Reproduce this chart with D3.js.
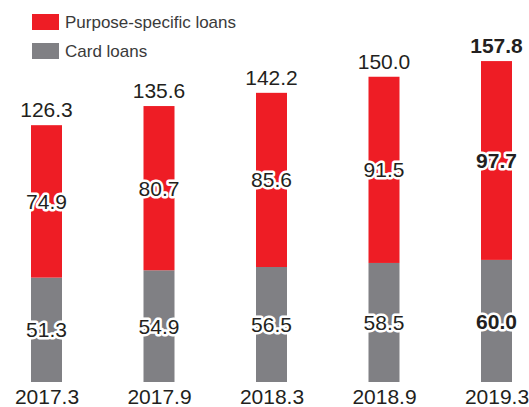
<!DOCTYPE html>
<html>
<head>
<meta charset="utf-8">
<script src="https://cdn.jsdelivr.net/npm/d3@7"></script>
<style>
  html, body { margin: 0; padding: 0; background: #fff; }
  svg { display: block; font-family: "Liberation Sans", Arial, Helvetica, sans-serif; }
</style>
</head>
<body>
<svg id="chart" width="529" height="407"></svg>
<script>
// Loan balances by period (stacked: card loans at the bottom)
const periods = ["2017.3", "2017.9", "2018.3", "2018.9", "2019.3"];
const cardLoans = [51.3, 54.9, 56.5, 58.5, 60.0];
const purposeLoans = [74.9, 80.7, 85.6, 91.5, 97.7];
const totals = [126.3, 135.6, 142.2, 150.0, 157.8];
const seriesNames = ["Card loans", "Purpose-specific loans"];
const seriesColors = ["#808084", "#ee1d25"];

const svg = d3.select("#chart");
const textColor = "#231f20";

const rows = periods.map((p, i) => ({
  period: p,
  "Card loans": cardLoans[i],
  "Purpose-specific loans": purposeLoans[i]
}));
const stacked = d3.stack().keys(seriesNames)(rows);

const x = d3.scalePoint().domain(periods).range([46.5, 496.5]);
const y = d3.scaleLinear().domain([0, 160]).range([382, 56.4]);
const barW = 31;
const color = d3.scaleOrdinal().domain(seriesNames).range(seriesColors);

// Bars
svg.append("g").selectAll("g")
  .data(stacked)
  .join("g")
  .attr("fill", d => color(d.key))
  .selectAll("rect")
  .data(d => d)
  .join("rect")
  .attr("x", d => x(d.data.period) - barW / 2)
  .attr("y", d => y(d[1]))
  .attr("width", barW)
  .attr("height", d => y(d[0]) - y(d[1]));

const last = periods[periods.length - 1];

// Segment value labels with white halo
const segLabels = svg.append("g")
  .attr("text-anchor", "middle")
  .attr("font-size", 21);
stacked.forEach(s => {
  segLabels.selectAll(null)
    .data(s)
    .join("text")
    .attr("x", d => x(d.data.period))
    .attr("y", d => (y(d[0]) + y(d[1])) / 2)
    .attr("dy", "0.36em")
    .attr("fill", textColor)
    .attr("stroke", "#fff")
    .attr("stroke-width", 5)
    .attr("stroke-linejoin", "round")
    .attr("paint-order", "stroke")
    .attr("font-weight", d => d.data.period === last ? "bold" : "normal")
    .text(d => d3.format(".1f")(d[1] - d[0]));
});

// Total labels above bars
svg.append("g")
  .attr("text-anchor", "middle")
  .attr("font-size", 21)
  .selectAll("text")
  .data(periods)
  .join("text")
  .attr("x", d => x(d))
  .attr("y", (d, i) => y(totals[i]) - 8)
  .attr("fill", textColor)
  .attr("font-weight", d => d === last ? "bold" : "normal")
  .text((d, i) => d3.format(".1f")(totals[i]));

// Category axis labels
const xAxis = d3.axisBottom(x).tickSize(0).tickPadding(0);
const gx = svg.append("g")
  .attr("transform", "translate(0,389)")
  .call(xAxis);
gx.select(".domain").remove();
gx.selectAll("text")
  .attr("font-size", 21)
  .attr("font-family", "Liberation Sans, Arial, sans-serif")
  .attr("fill", textColor)
  .attr("dy", null)
  .attr("y", 15);

// Legend
const legendItems = ["Purpose-specific loans", "Card loans"];
const legend = svg.append("g")
  .selectAll("g")
  .data(legendItems)
  .join("g")
  .attr("transform", (d, i) => `translate(32,${14 + i * 29})`);
legend.append("rect")
  .attr("width", 27)
  .attr("height", 16)
  .attr("fill", d => color(d));
legend.append("text")
  .attr("x", 33)
  .attr("y", 14)
  .attr("font-size", 17)
  .attr("fill", "#3a3a3a")
  .text(d => d);
</script>
</body>
</html>
